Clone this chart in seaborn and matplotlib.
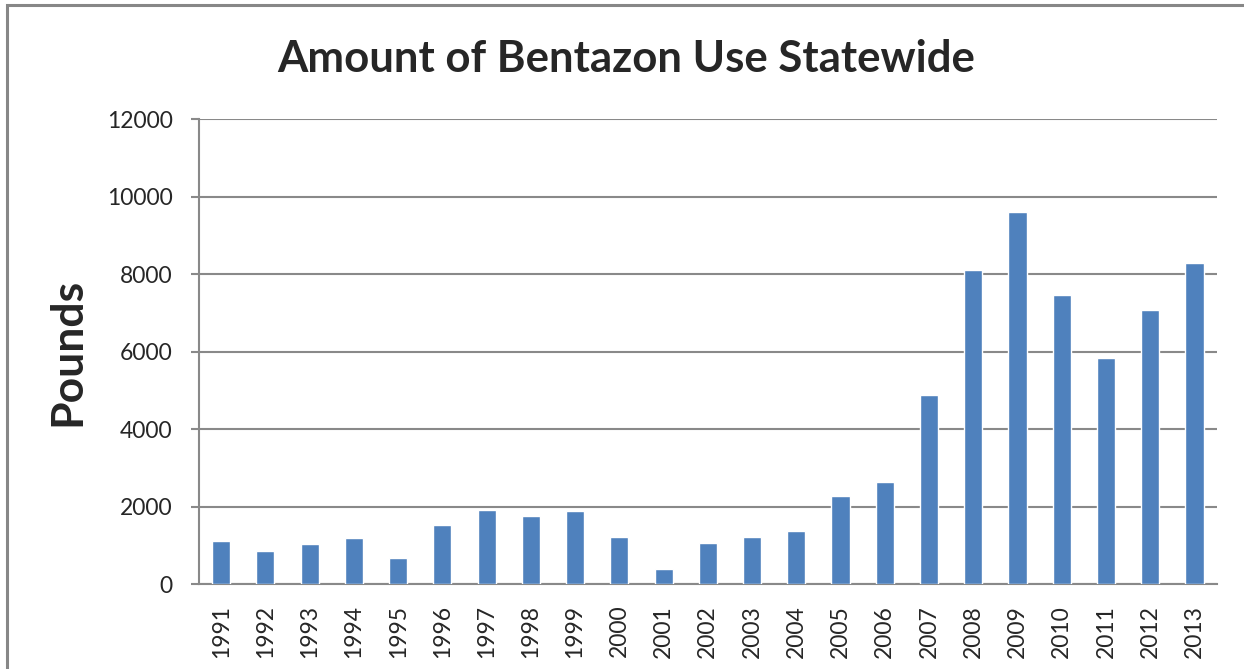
import numpy as np
import pandas as pd
import seaborn as sns
from matplotlib import pyplot as plt
from matplotlib.patches import Rectangle

years = [str(y) for y in range(1991, 2014)]
pounds = [1110, 850, 1030, 1190, 670, 1520, 1910, 1755, 1880, 1210, 390,
          1060, 1210, 1370, 2270, 2630, 4880, 8100, 9600, 7460, 5830, 7070, 8280]
y_ticks = [0, 2000, 4000, 6000, 8000, 10000, 12000]

BAR_COLOR = '#4F81BD'
GRID_COLOR = '#898989'


def main():
    sns.set_theme(style='white')
    plt.rcParams['font.family'] = ['Lato', 'DejaVu Sans']

    df = pd.DataFrame({'year': years, 'pounds': pounds})

    fig = plt.figure(figsize=(12.44, 6.69), dpi=100)
    ax = fig.add_axes([0.160, 0.127, 0.818, 0.695])

    sns.barplot(data=df, x='year', y='pounds', color=BAR_COLOR, width=0.41,
                saturation=1, ax=ax, zorder=3)

    ax.set_ylim(0, 12000)
    ax.set_xlim(-0.5, len(years) - 0.5)
    ax.set_yticks(y_ticks)
    ax.set_yticklabels([str(t) for t in y_ticks], fontsize=16.5)
    ax.tick_params(axis='y', which='major', length=6, width=1.5, color=GRID_COLOR,
                   direction='out', left=True, pad=13)
    ax.tick_params(axis='x', length=0, pad=15)
    plt.setp(ax.get_xticklabels(), rotation=90, fontsize=16.5)

    ax.grid(axis='y', color=GRID_COLOR, linewidth=1.5, zorder=0)
    ax.set_axisbelow(True)
    for side in ['top', 'right']:
        ax.spines[side].set_visible(False)
    for side in ['left', 'bottom']:
        ax.spines[side].set_color(GRID_COLOR)
        ax.spines[side].set_linewidth(1.5)

    ax.set_xlabel('')
    ax.set_ylabel('Pounds', fontsize=32, fontweight='bold', labelpad=14)
    fig.text(0.503, 0.912, 'Amount of Bentazon Use Statewide', ha='center', va='center',
             fontsize=31.5, fontweight='bold')

    # outer frame, cut off on the right and bottom
    fig.patches.append(Rectangle((7 / 1244, -0.05), 1.1, 1 - 5 / 669 + 0.05,
                                 transform=fig.transFigure, fill=False,
                                 edgecolor='#878787', linewidth=2.2))

    plt.savefig('out.png', dpi=100)


if __name__ == '__main__':
    main()
